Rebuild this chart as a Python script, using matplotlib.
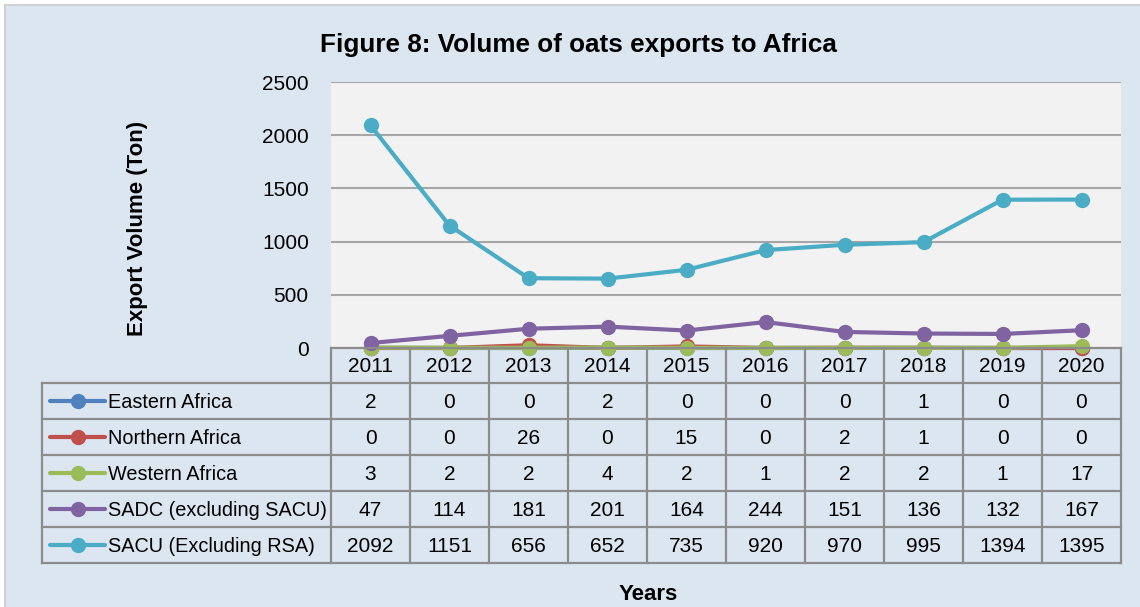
import matplotlib
matplotlib.use("Agg")
import matplotlib.pyplot as plt
from matplotlib.lines import Line2D
from matplotlib.patches import Rectangle

plt.rcParams['font.family'] = ['Liberation Sans', 'DejaVu Sans']

years = ['2011', '2012', '2013', '2014', '2015', '2016', '2017', '2018', '2019', '2020']
series_names = ['Eastern Africa', 'Northern Africa', 'Western Africa',
                'SADC (excluding SACU)', 'SACU (Excluding RSA)']
eastern = [2, 0, 0, 2, 0, 0, 0, 1, 0, 0]
northern = [0, 0, 26, 0, 15, 0, 2, 1, 0, 0]
western = [3, 2, 2, 4, 2, 1, 2, 2, 1, 17]
sadc = [47, 114, 181, 201, 164, 244, 151, 136, 132, 167]
sacu = [2092, 1151, 656, 652, 735, 920, 970, 995, 1394, 1395]
series_values = [eastern, northern, western, sadc, sacu]
colors = ['#4f81bd', '#c0504d', '#9bbb59', '#8064a2', '#4bacc6']
yticks = [0, 500, 1000, 1500, 2000, 2500]

W, H = 1140, 607
fig = plt.figure(figsize=(W / 100, H / 100), dpi=100, facecolor='white')

# background panel
bg = fig.add_axes([0, 0, 1, 1])
bg.set_xlim(0, W)
bg.set_ylim(H, 0)
bg.axis('off')
bg.add_patch(Rectangle((5, 5), W, H, facecolor='#dce6f1', edgecolor='#d0d0d0', lw=1.5))

# plot area
L, R, T, B = 331, 1121, 82, 348
ax = fig.add_axes([L / W, 1 - B / H, (R - L) / W, (B - T) / H])
ax.set_facecolor('#f2f2f2')
x = list(range(len(years)))
for vals, c in zip(series_values, colors):
    ax.plot(x, vals, color=c, lw=3, marker='o', ms=10, clip_on=False, zorder=3)
ax.set_xlim(-0.5, len(years) - 0.5)
ax.set_ylim(0, 2500)
ax.set_yticks(yticks)
ax.set_yticklabels([str(v) for v in yticks], fontsize=15)
ax.tick_params(axis='y', length=0, pad=16)
ax.set_xticks([])
ax.grid(axis='y', color='#a6a6a6', lw=1.5)
ax.set_axisbelow(True)
for s in ax.spines.values():
    s.set_visible(False)

fig.text(578 / W, 1 - 45 / H, 'Figure 8: Volume of oats exports to Africa',
         ha='center', va='center', fontsize=18.8, fontweight='bold')
fig.text(137 / W, 1 - 228 / H, 'Export Volume (Ton)', rotation=90,
         ha='center', va='center', fontsize=16, fontweight='bold')
fig.text(648 / W, 1 - 594 / H, 'Years', ha='center', va='center',
         fontsize=16, fontweight='bold')

# table
TL = 42
rows_y = [348, 383, 419, 455, 491, 527, 563]
unit = (R - L) / len(years)
xl = -0.5 - (L - TL) / unit
tax = fig.add_axes([TL / W, 1 - rows_y[-1] / H, (R - TL) / W, (rows_y[-1] - rows_y[0]) / H])
tax.set_xlim(xl, len(years) - 0.5)
tax.set_ylim(rows_y[-1], rows_y[0])
tax.axis('off')
tax.patch.set_alpha(0)
gc = '#8c8c8c'
glw = 1.6
tax.plot([-0.5, len(years) - 0.5], [rows_y[0]] * 2, color=gc, lw=glw, clip_on=False)
for yy in rows_y[1:]:
    tax.plot([xl, len(years) - 0.5], [yy] * 2, color=gc, lw=glw, clip_on=False)
tax.plot([xl, xl], [rows_y[1], rows_y[-1]], color=gc, lw=glw, clip_on=False)
for i in range(len(years) + 1):
    tax.plot([i - 0.5, i - 0.5], [rows_y[0], rows_y[-1]], color=gc, lw=glw, clip_on=False)

for i, yr in enumerate(years):
    tax.text(i, (rows_y[0] + rows_y[1]) / 2 + 1, yr, ha='center', va='center', fontsize=15)
for r, (name, vals, c) in enumerate(zip(series_names, series_values, colors)):
    yc = (rows_y[r + 1] + rows_y[r + 2]) / 2 + 1
    for i, v in enumerate(vals):
        tax.text(i, yc, str(v), ha='center', va='center', fontsize=15)
    k0 = xl + (50 - TL) / unit
    k1 = xl + (105 - TL) / unit
    tax.add_line(Line2D([k0, k1], [yc - 1, yc - 1], color=c, lw=3, solid_capstyle='round'))
    tax.add_line(Line2D([(k0 + k1) / 2], [yc - 1], color=c, marker='o', ms=10))
    tax.text(xl + (108 - TL) / unit, yc, name, ha='left', va='center', fontsize=14.3)

fig.savefig('out.png', dpi=100, facecolor=fig.get_facecolor())
